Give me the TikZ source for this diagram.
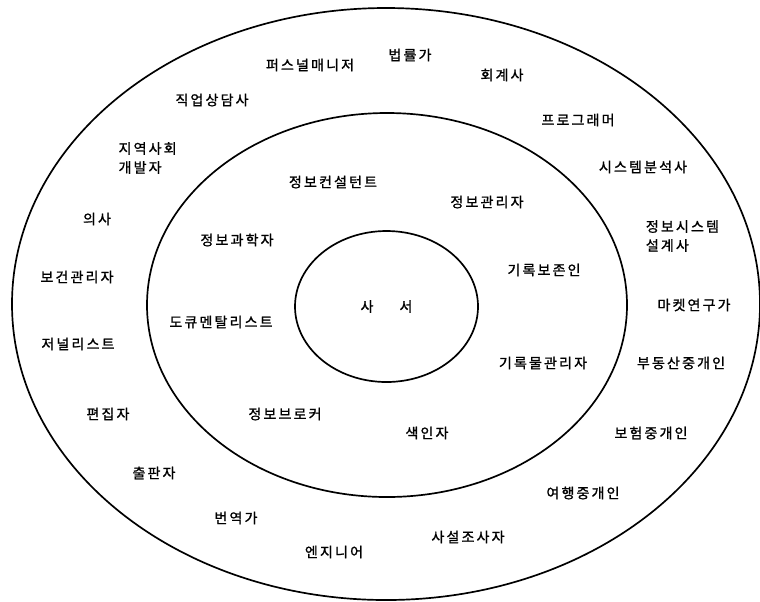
\documentclass[tikz,border=0pt]{standalone}
\usepackage{fontspec}
\newfontfamily\kr[LetterSpace=15,FakeBold=1.2]{Noto Sans CJK KR}
\usepackage{tikz}
\usetikzlibrary{shapes.geometric}

\tikzset{
  ring/.style={draw, ellipse, line width=1.2pt, inner sep=0pt},
  job/.style={font=\kr\fontsize{10}{13.5}\selectfont, align=center, inner sep=1pt},
  jobl/.style={job, align=left},
}

\begin{document}
\begin{tikzpicture}
  \useasboundingbox (0,0) rectangle (19,-15.025);
  % Rings
  \node[ring, minimum width=18.7cm, minimum height=14.8cm] (outer) at (9.65,-7.6) {};
  \node[ring, minimum width=12.0cm, minimum height=9.6cm] (mid) at (9.675,-7.625) {};
  \node[ring, job, inner sep=0pt, minimum width=4.575cm, minimum height=3.775cm] (lib) at (9.6625,-7.6625) {사\hspace{0.65cm}서};
  % Middle ring
  \node[job] (consult) at (8.325,-4.55)  {정보컨설턴트};
  \node[job] (infoman) at (12.175,-5.05) {정보관리자};
  \node[job] (infosci) at (5.925,-6.0)   {정보과학자};
  \node[job] (archiv)  at (13.6,-6.75)   {기록보존인};
  \node[job] (docu)    at (5.525,-8.05)  {도큐멘탈리스트};
  \node[job] (recman)  at (13.575,-9.075) {기록물관리자};
  \node[job] (broker)  at (7.125,-10.35) {정보브로커};
  \node[job] (indexer) at (10.675,-10.825) {색인자};
  % Outer ring
  \node[job]  (persman) at (7.75,-1.625)  {퍼스널매니저};
  \node[job]  (lawyer)  at (10.25,-1.375) {법률가};
  \node[job]  (account) at (12.55,-1.875) {회계사};
  \node[job]  (prog)    at (14.45,-3.0)   {프로그래머};
  \node[job]  (sysana)  at (16.075,-4.175) {시스템분석사};
  \node[jobl] (sysdes)  at (17.06,-5.9)   {정보시스템\\설계사};
  \node[job]  (market)  at (17.35,-7.625) {마켓연구가};
  \node[job]  (estate)  at (17.025,-9.075) {부동산중개인};
  \node[job]  (insur)   at (16.275,-10.825) {보험중개인};
  \node[job]  (travel)  at (14.575,-12.325) {여행중개인};
  \node[job]  (detect)  at (11.7,-13.425) {사설조사자};
  \node[job]  (engin)   at (8.35,-13.8)   {엔지니어};
  \node[job]  (transl)  at (5.9,-12.95)   {번역가};
  \node[job]  (publ)    at (3.85,-11.825) {출판자};
  \node[job]  (editor)  at (2.7,-10.35)   {편집자};
  \node[job]  (journ)   at (1.95,-8.6)    {저널리스트};
  \node[job]  (health)  at (1.925,-6.925) {보건관리자};
  \node[job]  (doctor)  at (2.425,-5.475) {의사};
  \node[jobl] (commdev) at (3.69,-3.95)   {지역사회\\개발자};
  \node[job]  (career)  at (5.3,-2.5)     {직업상담사};
\end{tikzpicture}
\end{document}
